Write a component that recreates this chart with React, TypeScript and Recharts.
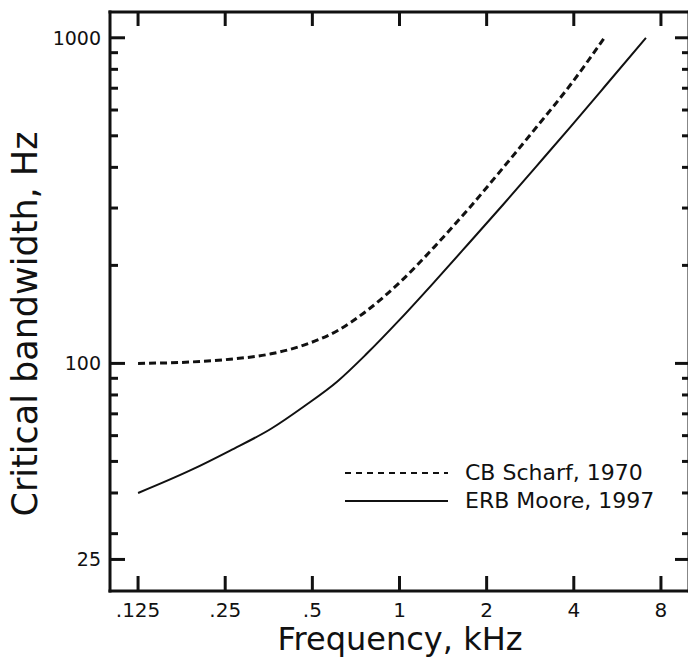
import { LineChart, Line, XAxis, YAxis, Legend, Label } from 'recharts';

const FONT = '"DejaVu Sans", Verdana, sans-serif';
const INK = '#111';

// frequencies in kHz, bandwidths in Hz
const cbFreq = [0.125, 0.19, 0.26, 0.36, 0.47, 0.61, 0.77, 1.0, 1.32, 1.73, 2.27, 2.97, 3.89, 5.1];
const cbBandwidth = [100, 101, 103, 107, 114, 126, 145, 177, 228, 298, 397, 531, 716, 1000];

const erbFreq = [0.125, 0.19, 0.26, 0.36, 0.47, 0.61, 0.77, 1.0, 1.32, 1.73, 2.27, 2.97, 3.89, 5.1, 7.1];
const erbBandwidth = [40, 47, 54, 63, 74, 88, 107, 136, 178, 233, 306, 403, 532, 706, 1000];

const xTicks = [0.125, 0.25, 0.5, 1, 2, 4, 8];
const xTickLabels = ['.125', '.25', '.5', '1', '2', '4', '8'];
const yTicks = [25, 30, 40, 50, 60, 70, 80, 90, 100, 200, 300, 400, 500, 600, 700, 800, 900, 1000];
const yTickLabels = [25, 100, 1000];

const seriesNames = ['CB Scharf, 1970', 'ERB Moore, 1997'];
const legendDash = ['6 5', undefined];

const cbData = cbFreq.map((f, i) => ({ f, bw: cbBandwidth[i] }));
const erbData = erbFreq.map((f, i) => ({ f, bw: erbBandwidth[i] }));

// plot frame edges (px), matching the chart margins below
const FRAME = { left: 110, right: 689, top: 12, bottom: 591 };

const axisLine = { stroke: INK, strokeWidth: 3, strokeLinecap: 'square' as const };

function BottomTick({ x, payload }: any) {
  const i = xTicks.indexOf(payload.value);
  const y = FRAME.bottom;
  return (
    <g>
      <line x1={x} x2={x} y1={y} y2={y - 15} stroke={INK} strokeWidth={3} />
      <text x={x} y={y + 26} textAnchor="middle" fontSize={20} fontFamily={FONT} fill={INK}>
        {xTickLabels[i]}
      </text>
    </g>
  );
}

function TopTick({ x }: any) {
  const y = FRAME.top;
  return <line x1={x} x2={x} y1={y} y2={y + 14} stroke={INK} strokeWidth={3} />;
}

function LeftTick({ y, payload }: any) {
  const major = yTickLabels.includes(payload.value);
  const x = FRAME.left;
  return (
    <g>
      <line x1={x} x2={x + (major ? 15 : 8)} y1={y} y2={y} stroke={INK} strokeWidth={3} />
      {major && (
        <text x={x - 9} y={y} dy="0.36em" textAnchor="end" fontSize={19} fontFamily={FONT} fill={INK}>
          {payload.value}
        </text>
      )}
    </g>
  );
}

function RightTick({ y, payload }: any) {
  const major = yTickLabels.includes(payload.value);
  const x = FRAME.right;
  return <line x1={x} x2={x - (major ? 14 : 7)} y1={y} y2={y} stroke={INK} strokeWidth={3} />;
}

const renderLegend = (props: any) => (
  <div style={{ fontFamily: FONT, fontSize: 22, color: INK }}>
    {(props.payload || []).map((entry: any, i: number) => (
      <div key={i} style={{ display: 'flex', alignItems: 'center', height: 28 }}>
        <svg width={103} height={28}>
          <line x1={0} x2={103} y1={14} y2={14} stroke={INK} strokeWidth={2} strokeDasharray={legendDash[i]} />
        </svg>
        <span style={{ marginLeft: 17, lineHeight: '28px', whiteSpace: 'nowrap' }}>{entry.value}</span>
      </div>
    ))}
  </div>
);

export default function App() {
  return (
    <div style={{ position: 'absolute', left: 0, top: 0, width: 688, height: 658, overflow: 'hidden', background: '#fff' }}>
      <LineChart width={692} height={658} margin={{ top: 11, right: 2, bottom: 0, left: 0 }}>
        <XAxis
          xAxisId="bottom"
          type="number"
          dataKey="f"
          scale="log"
          domain={[0.1, 10]}
          allowDataOverflow
          ticks={xTicks}
          interval={0}
          height={67}
          tickLine={false}
          axisLine={axisLine}
          tick={<BottomTick />}
        >
          <Label
            content={() => (
              <text x={400} y={650} textAnchor="middle" fontSize={32} fontFamily={FONT} fill={INK}>
                Frequency, kHz
              </text>
            )}
          />
        </XAxis>
        <XAxis
          xAxisId="top"
          orientation="top"
          type="number"
          dataKey="f"
          scale="log"
          domain={[0.1, 10]}
          allowDataOverflow
          ticks={xTicks}
          interval={0}
          height={1}
          tickLine={false}
          axisLine={axisLine}
          tick={<TopTick />}
        />
        <YAxis
          yAxisId="left"
          type="number"
          scale="log"
          domain={[20, 1200]}
          allowDataOverflow
          ticks={yTicks}
          interval={0}
          width={110}
          tickLine={false}
          axisLine={axisLine}
          tick={<LeftTick />}
        >
          <Label
            content={() => (
              <text
                transform="translate(37,324) rotate(-90)"
                textAnchor="middle"
                fontSize={35}
                fontFamily={FONT}
                fill={INK}
              >
                Critical bandwidth, Hz
              </text>
            )}
          />
        </YAxis>
        <YAxis
          yAxisId="right"
          orientation="right"
          type="number"
          scale="log"
          domain={[20, 1200]}
          allowDataOverflow
          ticks={yTicks}
          interval={0}
          width={1}
          tickLine={false}
          axisLine={axisLine}
          tick={<RightTick />}
        />
        <Legend
          layout="horizontal"
          verticalAlign="middle"
          align="center"
          wrapperStyle={{ left: 345, top: 459, width: 320 }}
          content={renderLegend}
        />
        <Line
          data={cbData}
          xAxisId="bottom"
          yAxisId="left"
          dataKey="bw"
          name={seriesNames[0]}
          type="monotone"
          stroke={INK}
          strokeWidth={3}
          strokeDasharray="7 4"
          dot={false}
          activeDot={false}
          isAnimationActive={false}
        />
        <Line
          data={erbData}
          xAxisId="bottom"
          yAxisId="left"
          dataKey="bw"
          name={seriesNames[1]}
          type="monotone"
          stroke={INK}
          strokeWidth={2}
          dot={false}
          activeDot={false}
          isAnimationActive={false}
        />
      </LineChart>
    </div>
  );
}
